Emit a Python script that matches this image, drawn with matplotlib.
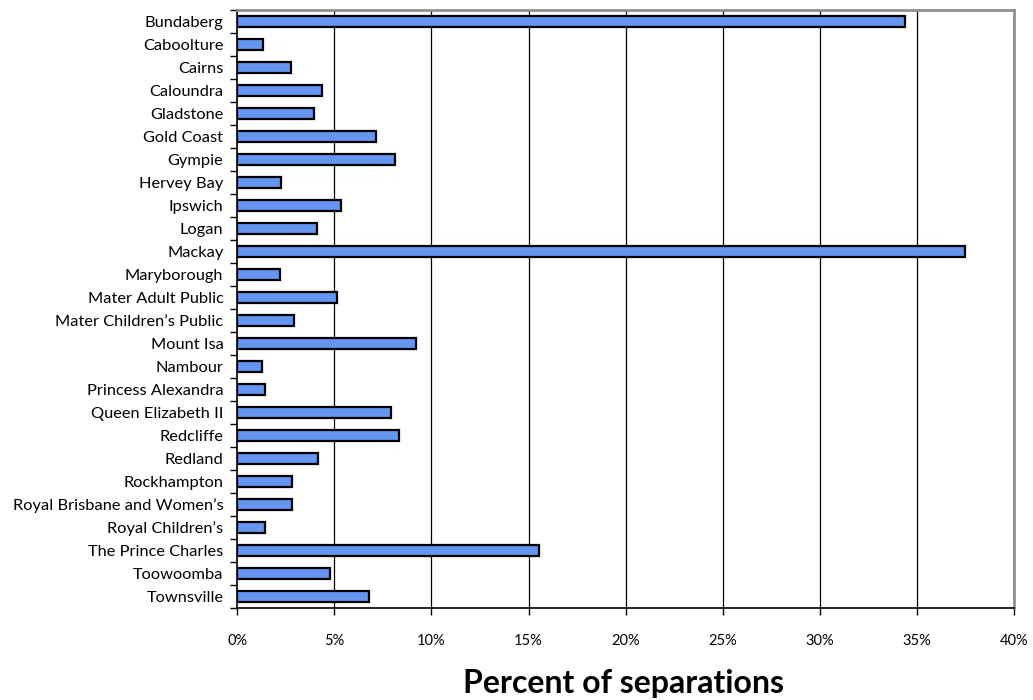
import matplotlib
matplotlib.use("Agg")
import matplotlib.pyplot as plt
from matplotlib.ticker import FixedLocator, PercentFormatter

categories = ["Bundaberg", "Caboolture", "Cairns", "Caloundra", "Gladstone",
              "Gold Coast", "Gympie", "Hervey Bay", "Ipswich", "Logan", "Mackay",
              "Maryborough", "Mater Adult Public", "Mater Children\u2019s Public",
              "Mount Isa", "Nambour", "Princess Alexandra", "Queen Elizabeth II",
              "Redcliffe", "Redland", "Rockhampton", "Royal Brisbane and Women\u2019s",
              "Royal Children\u2019s", "The Prince Charles", "Toowoomba", "Townsville"]
values = [34.4, 1.31, 2.77, 4.37, 3.94, 7.13, 8.13, 2.25, 5.36, 4.12, 37.47,
          2.2, 5.12, 2.94, 9.18, 1.29, 1.41, 7.92, 8.35, 4.18, 2.84, 2.8,
          1.43, 15.55, 4.78, 6.79]
xticks = [0, 5, 10, 15, 20, 25, 30, 35, 40]

plt.rcParams['font.family'] = ['Lato', 'DejaVu Sans']
fig = plt.figure(figsize=(10.33, 7.0), dpi=100)
ax = fig.add_axes([0.2297, 0.1314, 0.9816 - 0.2297, 0.9857 - 0.1314])

ypos = list(range(len(categories)))
ax.barh(ypos, values, height=0.45, color='#6495F0', edgecolor='black',
        linewidth=1.6, zorder=3)
ax.set_ylim(len(categories) - 0.5, -0.5)
ax.set_xlim(0, 40)
ax.set_xticks(xticks)
ax.xaxis.set_major_formatter(PercentFormatter(decimals=0))
ax.set_yticks(ypos)
ax.set_yticklabels(categories, fontsize=11.8)
ax.yaxis.set_minor_locator(FixedLocator([i - 0.5 for i in range(len(categories) + 1)]))
ax.tick_params(axis='y', which='major', length=0, pad=10)
ax.tick_params(axis='y', which='minor', length=5, width=1, direction='out')
ax.tick_params(axis='x', which='major', length=5, width=1, direction='out',
               pad=14, labelsize=10.5)
for x in xticks[1:-1]:
    ax.axvline(x, color='black', linewidth=0.9, zorder=1)
for s in ['top', 'right']:
    ax.spines[s].set_color('#909090')
    ax.spines[s].set_linewidth(2)
for s in ['left', 'bottom']:
    ax.spines[s].set_color('black')
    ax.spines[s].set_linewidth(1.2)
fig.text(0.604, 1 - 693 / 700, 'Percent of separations', fontsize=23,
         fontweight='bold', ha='center', va='baseline')

fig.savefig('out.png', dpi=100)
